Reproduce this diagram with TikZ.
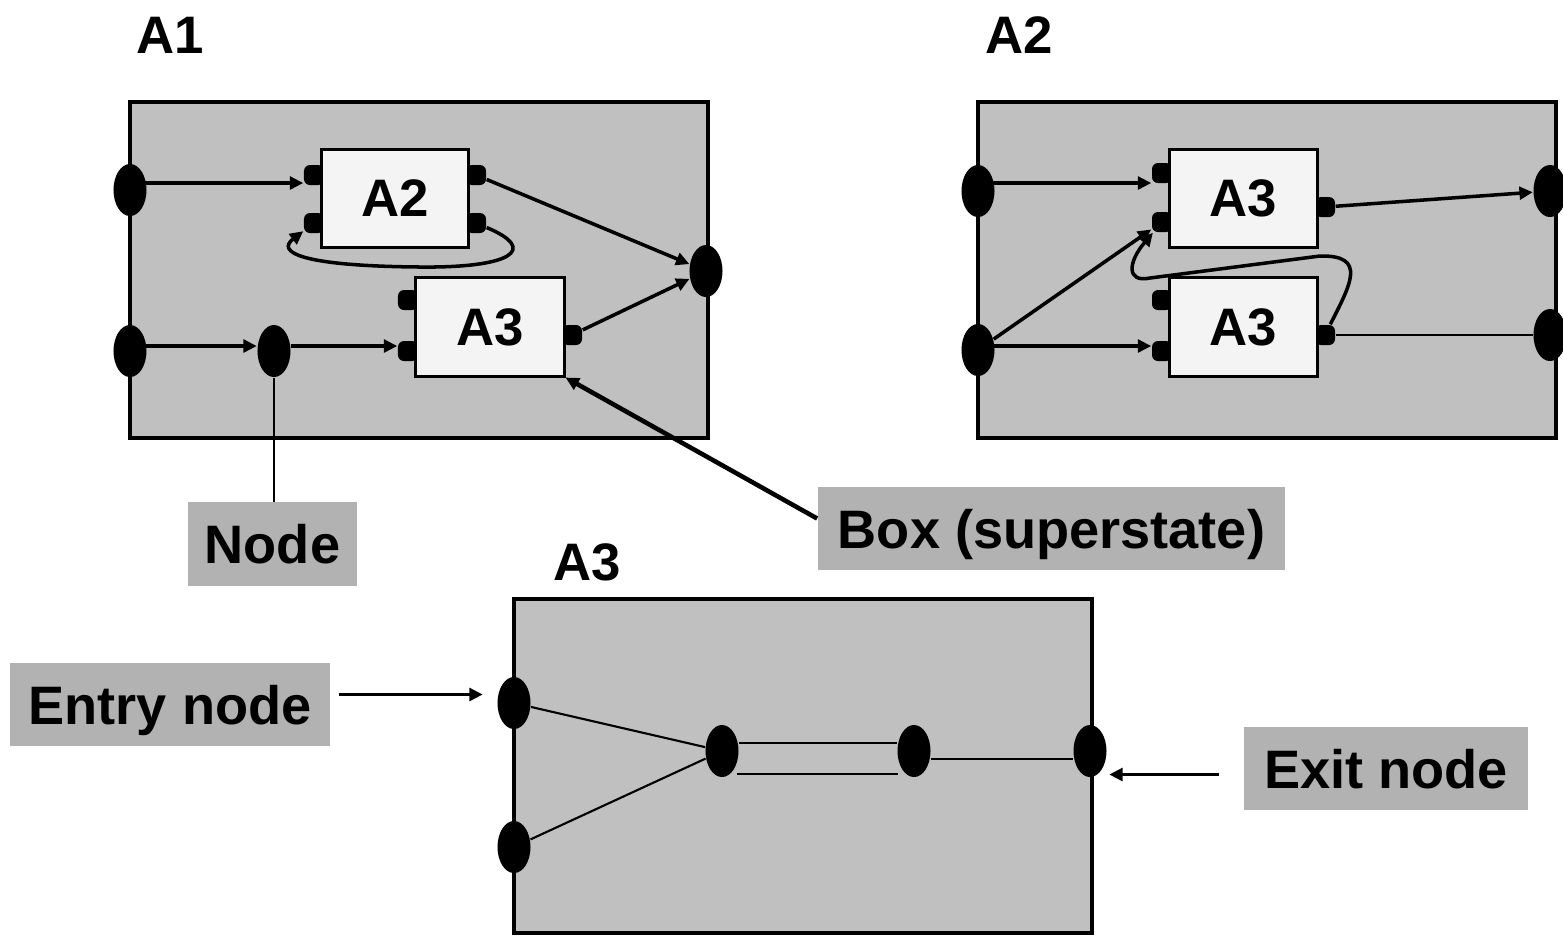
\documentclass[tikz,border=0pt]{standalone}
\usepackage{fontspec}
\setmainfont{Liberation Sans}
\usetikzlibrary{shapes.geometric,arrows.meta,calc}
\definecolor{supgray}{HTML}{C0C0C0}
\definecolor{boxwhite}{HTML}{F4F4F4}
\definecolor{lblgray}{HTML}{B2B2B2}
\tikzstyle{pin}=[ellipse,draw=none,fill=black,inner sep=0,minimum width=0.33cm,minimum height=0.52cm]
\tikzstyle{port}=[rectangle,rounded corners=0.06cm,fill=black,inner sep=0,minimum width=0.2cm,minimum height=0.2cm]
\tikzset{
  superstate/.style={
    draw=black,
    line width=1.15pt,
    fill=supgray,
    inner sep=0,
    minimum width=5.78cm,
    minimum height=3.36cm
  }
}
\tikzset{
  inbox/.style={
    draw=black,
    line width=0.85pt,
    fill=boxwhite,
    inner sep=0,
    minimum width=1.46cm,
    minimum height=0.97cm,
    font=\bfseries\fontsize{15}{18}\selectfont
  }
}
\tikzset{
  lbl/.style={
    fill=lblgray,
    inner sep=0,
    minimum height=0.83cm,
    text height=0.39cm,
    text depth=0pt,
    font=\bfseries\fontsize{15.4}{18}\selectfont
  }
}
\tikzset{boxtitle/.style={inner sep=0,font=\bfseries\fontsize{15}{18}\selectfont}}
\tikzset{flow/.style={line width=1pt,-{Triangle[length=3.8pt,width=3.6pt]}}}
\tikzset{wire/.style={line width=0.6pt}}

\begin{document}
\begin{tikzpicture}[x=0.01cm,y=-0.01cm]
\useasboundingbox (0,0) rectangle (1563,935);

\node[superstate] (A1) at (419,270) {};
\node[superstate] (A2) at (1267,270) {};
\node[superstate,minimum height=3.34cm] (A3) at (803,766) {};

\node[boxtitle] (A1t) at (170,35) {A1};
\node[boxtitle] (A2t) at (1019,35) {A2};
\node[boxtitle] (A3t) at (587,562) {A3};

\node[pin] (a1in1) at (130,190) {};
\node[pin] (a1in2) at (130,351) {};
\node[pin] (a1out) at (706,271) {};
\node[pin] (a1mid) at (274,351) {};

\node[port] (b2l1) at (314,175) {};
\node[port] (b2l2) at (314,223) {};
\node[port] (b2r1) at (476,175) {};
\node[port] (b2r2) at (476,223) {};
\node[inbox] (b2) at (395,198.5) {A2};
\node[port] (b3l1) at (408,300) {};
\node[port] (b3l2) at (408,351) {};
\node[port] (b3r) at (572,335) {};
\node[inbox,minimum width=1.48cm,minimum height=0.98cm] (b3) at (490,327) {A3};

\draw[flow] ($(a1in1 |- b2l1)+(0,8)$) -- ($(b2l1.west)+(0,8)$);
\draw[flow] ($(a1in2)+(0,-5)$) -- ($(a1mid.west)+(0,-5)$);
\draw[flow] ($(a1mid.east)+(0,-5)$) -- ($(b3l2.west)+(0,-5)$);
\draw[flow] (b2r1) -- (a1out);
\draw[flow] (b3r) -- (a1out);
\draw[flow] (b2r2) .. controls (540,250) and (510,268) .. (420,267)
  .. controls (300,266) and (276,252) .. (b2l2);

\node[pin] (a2in1) at (978,191) {};
\node[pin] (a2in2) at (978,350) {};
\node[pin] (a2out1) at (1550,191) {};
\node[pin] (a2out2) at (1550,335) {};

\node[port] (c1l1) at (1162,173) {};
\node[port] (c1l2) at (1162,222) {};
\node[port] (c1r) at (1325,207) {};
\node[inbox,minimum width=1.47cm] (c1) at (1243.5,198.5) {A3};
\node[port] (c2l1) at (1162,300) {};
\node[port] (c2l2) at (1162,351) {};
\node[port] (c2r) at (1325,335) {};
\node[inbox,minimum width=1.47cm,minimum height=0.98cm] (c2) at (1243.5,327) {A3};

\draw[flow] ($(a2in1 |- c1l1)+(0,10)$) -- ($(c1l1.west)+(0,10)$);
\draw[flow] (a2in2) -- (c1l2);
\draw[flow] ($(a2in2 |- c2l2)+(0,-5)$) -- ($(c2l2.west)+(0,-5)$);
\draw[flow] (c1r) -- (a2out1);
\draw[wire] (c2r) -- (a2out2);
\draw[flow] (c2r) .. controls (1350,285) and (1368,255) .. (1320,256)
  -- (1150,278) .. controls (1126,283) and (1128,262) .. (c1l2);

\node[pin] (a3in1) at (514,703) {};
\node[pin] (a3in2) at (514,847) {};
\node[pin] (a3j1) at (722,751) {};
\node[pin] (a3j2) at (914,751) {};
\node[pin] (a3out) at (1090,751) {};

\draw[wire] (a3in1) -- (a3j1);
\draw[wire] (a3in2) -- (a3j1);
\draw[wire] ($(a3j1.east)+(0,-8)$) -- ($(a3j2.west)+(0,-8)$);
\draw[wire] ($(a3j1.east)+(-2,23)$) -- ($(a3j2.west)+(1,23)$);
\draw[wire] ($(a3j2.east)+(0,8)$) -- ($(a3out.west)+(0,8)$);

\node[lbl,minimum width=1.69cm] (nodelbl) at (272.5,544) {Node};
\node[lbl,minimum width=4.67cm] (boxlbl) at (1051.5,528.5) {Box (superstate)};
\node[lbl,minimum width=3.20cm] (entrylbl) at (170,704.5) {Entry node};
\node[lbl,minimum width=2.84cm] (exitlbl) at (1386,768.5) {Exit node};

\draw[wire] (a1mid.south) -- (a1mid.south |- nodelbl.north);
\draw[flow,line width=1.3pt] ($(boxlbl.west)+(0,-10)$) -- (b3.south east);
\draw[flow] ($(entrylbl.east)+(8,-10)$) -- ($(entrylbl.east -| a3in1.west)+(-14,-10)$);
\draw[flow] ($(exitlbl.west)+(-24,6)$) -- ($(exitlbl.west -| a3out.east)+(2,6)$);

\end{tikzpicture}
\end{document}
